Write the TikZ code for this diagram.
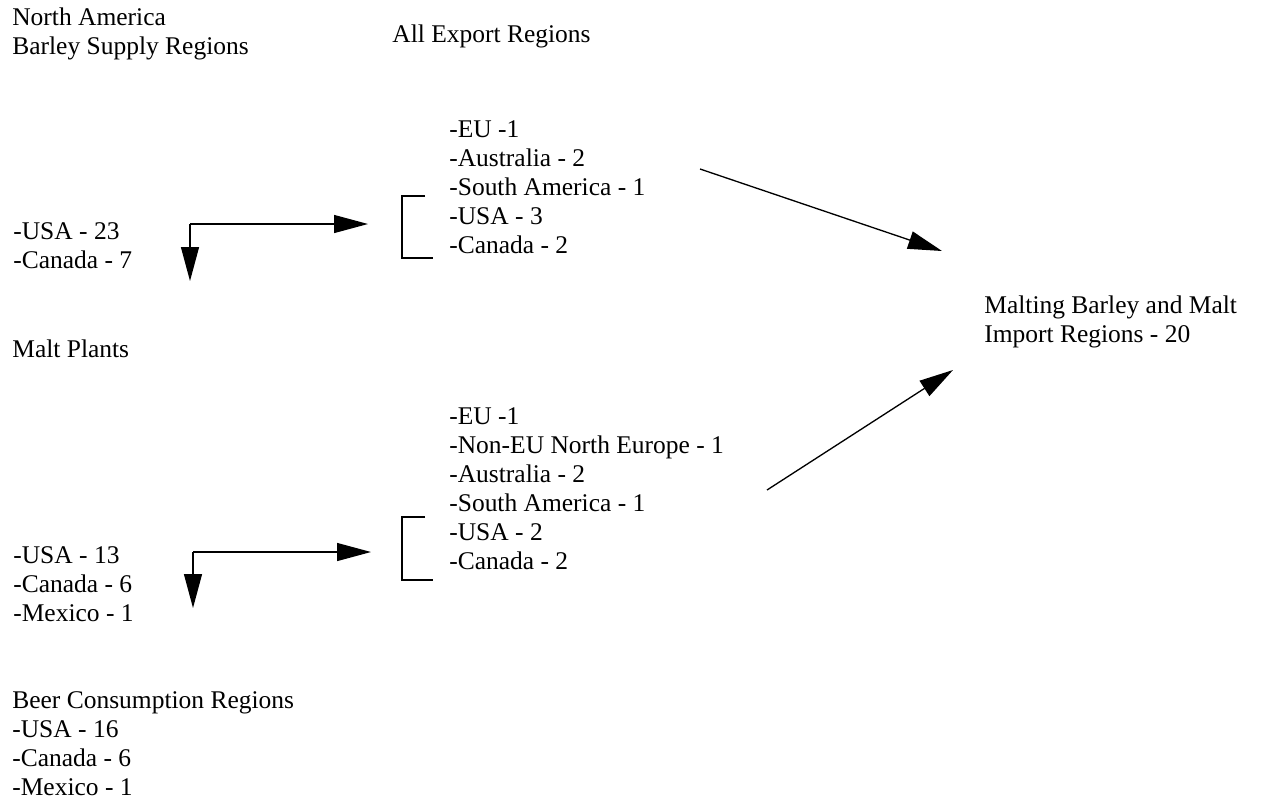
\documentclass[tikz,border=0pt]{standalone}
\usepackage{fontspec}
\setmainfont{Liberation Serif}
\usetikzlibrary{arrows.meta}

\begin{document}
\begin{tikzpicture}[
  x=0.2mm, y=-0.2mm,
  >={Triangle[length=6.8mm, width=3.6mm]},
  every node/.style={font=\fontsize{14.5}{16.5}\selectfont},
  textblock/.style={anchor=north west, align=left, inner sep=0pt},
  flow/.style={->, line width=0.75pt},
  bracket/.style={line width=0.75pt},
]
\useasboundingbox (0,0) rectangle (1265,803);

% ---- left column: North America regions ----
\node[textblock] (supplyhead) at (12, 4.7)   {\strut North America\\Barley Supply Regions};
\node[textblock] (supplylist) at (13, 218.7) {\strut -USA - 23\\-Canada - 7};
\node[textblock] (maltplants) at (12, 336.7) {\strut Malt Plants};
\node[textblock] (maltlist)   at (13, 542.7) {\strut -USA - 13\\-Canada - 6\\-Mexico - 1};
\node[textblock] (beer)       at (12, 687.7) {\strut Beer Consumption Regions\\-USA - 16\\-Canada - 6\\-Mexico - 1};

% ---- middle column: export regions ----
\node[textblock] (exporthead) at (392, 21.7)  {\strut All Export Regions};
\node[textblock] (barleyexp)  at (449, 116.7) {\strut -EU -1\\-Australia - 2\\-South America - 1\\-USA - 3\\-Canada - 2};
\node[textblock] (maltexp)    at (449, 403.7) {\strut -EU -1\\-Non-EU North Europe - 1\\-Australia - 2\\-South America - 1\\-USA - 2\\-Canada - 2};

% ---- right column: import regions ----
\node[textblock] (importreg)  at (984, 292.7) {\strut Malting Barley and Malt\\Import Regions - 20};

% ---- brackets ----
\draw[bracket] (425,196) -- (402,196) -- (402,258) -- (433,258);
\draw[bracket] (425,517) -- (402,517) -- (402,580) -- (433,580);

% ---- arrow end points ----
\coordinate (supcorner) at (190,224);
\coordinate (supdown)   at (190,281);
\coordinate (supright)  at (368,224);
\coordinate (maltcorner) at (193,552);
\coordinate (maltdown)   at (193,608);
\coordinate (maltright)  at (371,552);
\coordinate (barleyfrom) at (700,169);
\coordinate (barleyto)   at (942,251);
\coordinate (maltfrom)   at (767,490);
\coordinate (maltto)     at (953,370);

% ---- arrows ----
\draw[flow] (supcorner) -- (supdown);
\draw[flow] (supcorner) -- (supright);
\draw[flow] (maltcorner) -- (maltdown);
\draw[flow] (maltcorner) -- (maltright);
\draw[flow] (barleyfrom) -- (barleyto);
\draw[flow] (maltfrom) -- (maltto);

\end{tikzpicture}
\end{document}
